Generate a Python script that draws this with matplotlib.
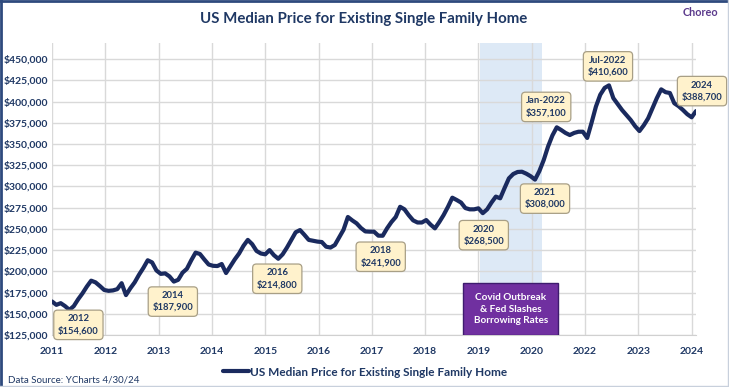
import matplotlib
matplotlib.use("Agg")
import matplotlib.pyplot as plt
from matplotlib.patches import Rectangle
from matplotlib.lines import Line2D
import numpy as np

# ---------------- data ----------------
# Monthly median price (USD), Sep-2011 .. Jan-2024
prices_k = [
    164.5, 160.5, 162.5, 159.0, 154.6, 159.0, 167.0, 174.0, 182.0, 189.0,
    187.0, 182.7, 178.0, 177.0, 177.5, 179.0, 186.0, 172.0, 180.0, 187.0,
    196.0, 204.0, 213.0, 210.5, 201.0, 197.0, 197.6, 194.0, 187.9, 190.0,
    198.4, 203.0, 213.0, 222.0, 220.4, 214.0, 208.0, 206.5, 206.2, 208.6,
    198.0, 206.0, 214.0, 221.0, 230.0, 237.0, 232.0, 224.0, 221.0, 220.0,
    225.0, 219.0, 214.8, 220.0, 228.0, 237.0, 246.0, 248.6, 243.0, 237.0,
    236.0, 235.0, 234.5, 229.0, 228.0, 231.0, 240.0, 249.0, 264.0, 260.0,
    256.5, 251.0, 247.0, 246.7, 246.7, 242.0, 241.9, 250.6, 258.0, 264.0,
    276.0, 273.0, 266.0, 260.0, 257.5, 257.5, 260.4, 255.0, 250.6, 258.0,
    266.3, 276.0, 286.7, 284.0, 281.0, 274.5, 273.0, 273.0, 274.2, 268.5,
    273.0, 281.0, 288.0, 286.0, 298.0, 309.5, 314.6, 317.0, 317.3, 315.0,
    312.0, 308.0, 318.0, 331.0, 347.0, 360.0, 369.6, 366.5, 363.0, 360.5,
    363.0, 364.4, 364.4, 357.1, 375.0, 394.0, 408.0, 416.0, 419.0, 404.0,
    397.0, 390.0, 384.0, 378.2, 371.0, 365.2, 372.0, 380.2, 392.0, 404.0,
    414.3, 411.0, 410.0, 398.0, 394.5, 390.0, 385.0, 381.4, 388.7,
]
prices = [p * 1000 for p in prices_k]
months = list(range(len(prices)))

x_tick_labels = ["2011", "2012", "2013", "2014", "2015", "2016", "2017",
                 "2018", "2019", "2020", "2022", "2023", "2024"]
y_ticks = list(range(125000, 450001, 25000))

# annotated points: (month index, label text)
annot_idx = [4, 28, 52, 76, 99, 111, 123, 128, 148]
annot_text = ["2012\n$154,600", "2014\n$187,900", "2016\n$214,800",
              "2018\n$241,900", "2020\n$268,500", "2021\n$308,000",
              "Jan-2022\n$357,100", "Jul-2022\n$410,600", "2024\n$388,700"]
annot_off = [(9, -15), (-1, -20), (-1, -20), (-2, -21), (1, -22),
             (10, -19), (-41, 31), (-1, 19), (6, 20)]

covid_span = (98.4, 112.6)
covid_text = "Covid Outbreak\n& Fed Slashes\nBorrowing Rates"
covid_box_x = (94.4, 116.4)
covid_box_top = 185900

navy = "#1f3864"
line_col = "#1a2a5e"
font = ["Lato", "DejaVu Sans"]
plt.rcParams["font.family"] = font

fig = plt.figure(figsize=(7.29, 3.87), dpi=100)
fig.patch.set_facecolor("white")
ax = fig.add_axes([52 / 729, 1 - 335 / 387, (696 - 52) / 729, (335 - 43) / 387])

ax.axvspan(covid_span[0], covid_span[1], color="#dde9f6", zorder=0, lw=0)

ax.plot(months, prices, color=line_col, lw=3.0, solid_joinstyle="round",
        solid_capstyle="round", zorder=3,
        label="US Median Price for Existing Single Family Home")

ax.set_xlim(0, len(prices) - 1)
ax.set_ylim(125000, 468900)
tick_pos = np.linspace(0, 147, len(x_tick_labels))
ax.set_xticks(tick_pos)
ax.set_xticklabels(x_tick_labels)
ax.set_yticks(y_ticks)
ax.set_yticklabels([f"${v:,.0f}" for v in y_ticks])
ax.grid(True, color="#d9d9d9", lw=1.0, zorder=1)
ax.set_axisbelow(True)
for s in ["top", "right", "left"]:
    ax.spines[s].set_visible(False)
ax.spines["bottom"].set_color("#d0d0d0")
ax.tick_params(axis="both", length=0, colors=navy)
for lab in ax.get_xticklabels():
    lab.set_fontsize(7.5)
    lab.set_fontweight("bold")
    lab.set_color(navy)
for lab in ax.get_yticklabels():
    lab.set_fontsize(7.5)
    lab.set_fontweight("bold")
    lab.set_color(navy)
    lab.set_horizontalalignment("left")
ax.tick_params(axis="y", pad=35)
ax.tick_params(axis="x", pad=9)

# annotations
for i, txt, off in zip(annot_idx, annot_text, annot_off):
    ax.annotate(txt, xy=(months[i], prices[i]), xytext=off,
                textcoords="offset pixels", ha="center", va="center",
                fontsize=6.8, fontweight="bold", color=navy, zorder=6,
                annotation_clip=False, linespacing=1.35,
                bbox=dict(boxstyle="round,pad=0.45,rounding_size=0.4",
                          fc="#fff2cc", ec="#a89f86", lw=0.9))

# covid box
ax.add_patch(Rectangle((covid_box_x[0], 125000),
                       covid_box_x[1] - covid_box_x[0],
                       covid_box_top - 125000,
                       fc="#7030a0", ec="#3e1c6e", lw=1.0, zorder=5))
ax.text((covid_box_x[0] + covid_box_x[1]) / 2, (125000 + covid_box_top) / 2,
        covid_text, ha="center", va="center", color="white", fontsize=7.2,
        fontweight="bold", linespacing=1.4, zorder=6)

# title and texts
fig.text(364 / 729, 1 - 19 / 387, "US Median Price for Existing Single Family Home",
         ha="center", va="center", fontsize=10.8, fontweight="bold", color=navy)
fig.text(718 / 729, 1 - 13 / 387, "Choreo", ha="right", va="center",
         fontsize=7.8, fontweight="bold", color="#5b3a8c")
fig.text(8 / 729, 1 - 380 / 387, "Data Source: YCharts 4/30/24", ha="left",
         va="center", fontsize=7, color=navy)

leg = fig.legend(loc="center", bbox_to_anchor=(365 / 729, 1 - 372 / 387),
                 frameon=False, handlelength=2.2, handletextpad=0.1,
                 prop=dict(family=font, size=8.5, weight="bold"))
for t in leg.get_texts():
    t.set_color(navy)
for h in leg.legend_handles:
    h.set_linewidth(3)

# frame
fig.add_artist(Line2D([0, 1], [0.998, 0.998], transform=fig.transFigure,
                      color="#2e4a7d", lw=2))
fig.add_artist(Line2D([0.001, 0.001], [0, 1], transform=fig.transFigure,
                      color="#2e4a7d", lw=2))
fig.add_artist(Line2D([0, 1], [0.002, 0.002], transform=fig.transFigure,
                      color="#c8d0dc", lw=1))
fig.add_artist(Line2D([0.999, 0.999], [0, 1], transform=fig.transFigure,
                      color="#c8d0dc", lw=1))

fig.savefig("out.png", dpi=100)
